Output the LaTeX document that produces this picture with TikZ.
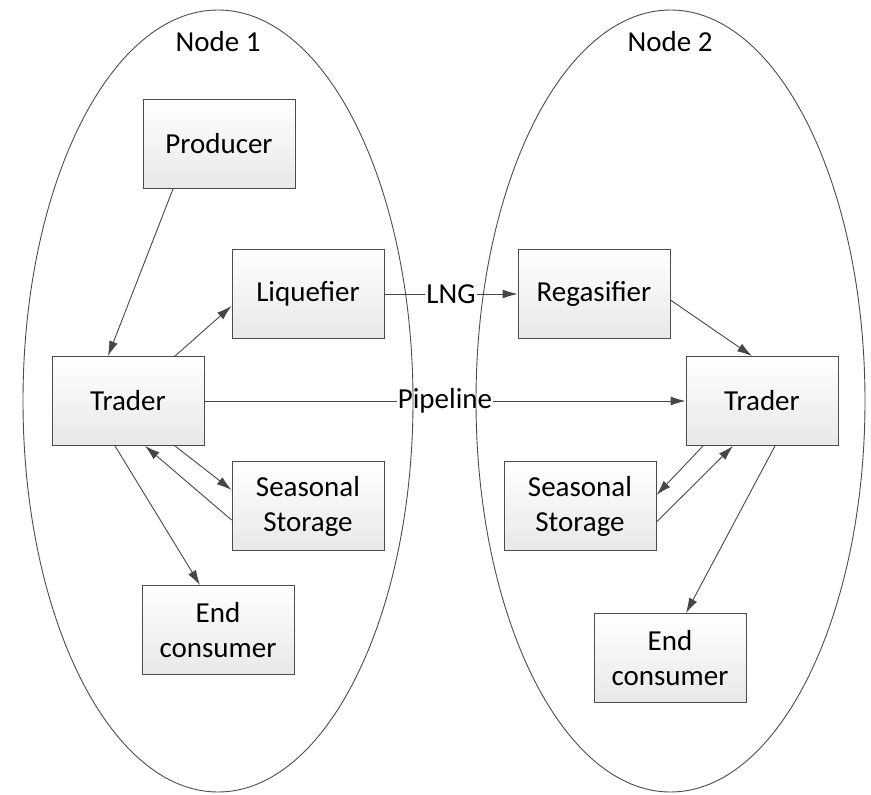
\documentclass[tikz,border=0pt]{standalone}
\usepackage{fontspec}
\setmainfont{Carlito}
\usetikzlibrary{arrows.meta, positioning, calc}

\begin{document}
\begin{tikzpicture}[
                    x=1pt, y=-1pt,
                    region/.style={draw=black!70, line width=0.9pt},
                    box/.style={draw=black!70, line width=0.9pt, top color=white, bottom color=black!9,
                                minimum width=152pt, minimum height=89pt, align=center,
                                font=\fontsize{29}{35}\selectfont},
                    title/.style={font=\fontsize{29}{35}\selectfont},
                    flow/.style={draw=black!72, line width=0.9pt, -{Latex[length=15pt,width=9pt]}},
                    tag/.style={fill=white, inner sep=1pt, font=\fontsize{29}{35}\selectfont}
                ]
                \useasboundingbox (0,0) rectangle (871,795);
                \node[title] (lblA) at (218,42) {Node 1};
                \node[title] (lblB) at (670,42) {Node 2};

                % players in node 1
                \node[box] (prod) at (219,144) {Producer};
                \node[box] (liq) at (308,294) {Liquefier};
                \node[box] (trL) at (128,401) {Trader};
                \node[box] (stoL) at (308,506) {Seasonal\\Storage};
                \node[box] (endL) at (218,630) {End\\consumer};

                % players in node 2
                \node[box] (reg) at (594,294) {Regasifier};
                \node[box] (trR) at (762,401) {Trader};
                \node[box] (stoR) at (580,506) {Seasonal\\Storage};
                \node[box] (endR) at (670,658) {End\\consumer};

                % flows inside node 1
                \draw[flow] ($(prod.south)+(-46,0)$) -- ($(trL.north)+(-20,0)$);
                \draw[flow] ($(trL.north)+(47,0)$) -- ($(liq.west)+(0,12)$);
                \draw[flow] ($(trL.south)+(47,0)$) -- ($(stoL.west)+(0,-16)$);
                \draw[flow] ($(stoL.west)+(0,14)$) -- ($(trL.south)+(17,0)$);
                \draw[flow] ($(trL.south)+(-13,0)$) -- ($(endL.north)+(-18,0)$);

                % flows between the nodes
                \draw[flow] (liq.east) -- node[tag] {LNG} (reg.west);
                \draw[flow] (trL.east) -- node[tag] {Pipeline} (trR.west);

                % flows inside node 2
                \draw[flow] ($(reg.east)+(0,6)$) -- ($(trR.north)+(-10,0)$);
                \draw[flow] ($(trR.south)+(-59,0)$) -- ($(stoR.east)+(0,-11)$);
                \draw[flow] ($(stoR.east)+(0,16)$) -- ($(trR.south)+(-29,0)$);
                \draw[flow] ($(trR.south)+(13,0)$) -- ($(endR.north)+(16,0)$);

                % the two market nodes, drawn over the labels
                \draw[region] (218,401) ellipse [x radius=195, y radius=391];
                \draw[region] (670.5,401) ellipse [x radius=194.5, y radius=391];
            \end{tikzpicture}
\end{document}
